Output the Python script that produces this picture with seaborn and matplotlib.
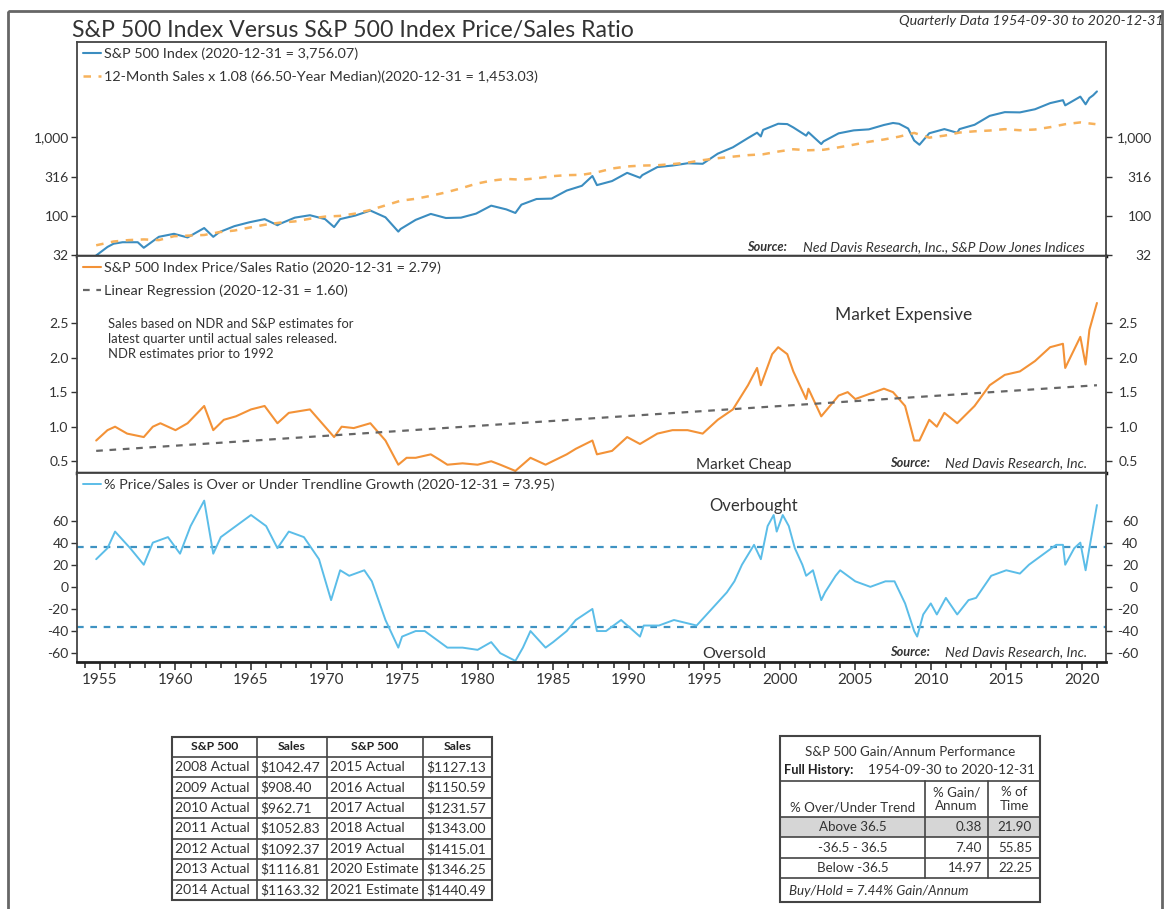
import matplotlib
matplotlib.use("Agg")
import matplotlib.pyplot as plt
import seaborn as sns
from matplotlib.patches import Rectangle
from matplotlib.ticker import NullLocator, MultipleLocator

# ---------------- data ----------------
sp_years = [1954.75, 1955.5, 1955.9, 1956.5, 1957.5, 1957.9, 1958.9, 1959.9, 1960.8, 1961.9,
            1962.5, 1962.9, 1963.9, 1964.9, 1965.9, 1966.75, 1966.9, 1967.9, 1968.9, 1969.9,
            1970.5, 1970.9, 1971.9, 1972.9, 1973.9, 1974.75, 1974.9, 1975.9, 1976.9, 1977.9,
            1978.9, 1979.9, 1980.9, 1981.9, 1982.5, 1982.9, 1983.9, 1984.9, 1985.9, 1986.9,
            1987.6, 1987.9, 1988.9, 1989.9, 1990.75, 1990.9, 1991.9, 1992.9, 1993.9, 1994.9,
            1995.9, 1996.9, 1997.9, 1998.5, 1998.75, 1998.9, 1999.9, 2000.5, 2000.9, 2001.75,
            2001.9, 2002.75, 2002.9, 2003.9, 2004.9, 2005.9, 2006.9, 2007.5, 2007.9, 2008.5,
            2008.9, 2009.25, 2009.9, 2010.9, 2011.75, 2011.9, 2012.9, 2013.9, 2014.9, 2015.9,
            2016.9, 2017.9, 2018.75, 2018.9, 2019.9, 2020.25, 2020.5, 2020.75, 2021.0]
sp_values = [32, 41, 45, 47, 47, 40, 55, 60, 54, 71,
             55, 63, 75, 84, 92, 77, 80, 96, 103, 92,
             73, 92, 102, 118, 97, 64, 69, 90, 107, 95,
             96, 108, 136, 122, 110, 140, 165, 167, 211, 242,
             322, 247, 278, 353, 306, 330, 417, 436, 466, 459,
             616, 741, 970, 1133, 1017, 1229, 1469, 1455, 1320, 1040,
             1148, 815, 880, 1112, 1212, 1248, 1418, 1503, 1468, 1280,
             903, 798, 1115, 1258, 1131, 1258, 1426, 1848, 2059, 2044,
             2239, 2674, 2914, 2507, 3231, 2585, 3100, 3363, 3756]

sales_years = [1954.75, 1955.9, 1956.9, 1957.9, 1958.9, 1959.9, 1960.9, 1961.9, 1962.9, 1963.9,
               1964.9, 1965.9, 1966.9, 1967.9, 1968.9, 1969.9, 1970.9, 1971.9, 1972.9, 1973.9,
               1974.9, 1975.9, 1976.9, 1977.9, 1978.9, 1979.9, 1980.9, 1981.9, 1982.9, 1983.9,
               1984.9, 1985.9, 1986.9, 1987.9, 1988.9, 1989.9, 1990.9, 1991.9, 1992.9, 1993.9,
               1994.9, 1995.9, 1996.9, 1997.9, 1998.9, 1999.9, 2000.9, 2001.9, 2002.9, 2003.9,
               2004.9, 2005.9, 2006.9, 2007.9, 2008.9, 2009.9, 2010.9, 2011.9, 2012.9, 2013.9,
               2014.9, 2015.9, 2016.9, 2017.9, 2018.9, 2019.9, 2020.9]
sales_values = [43, 48, 50, 51, 50, 56, 57, 58, 63, 66,
                72, 78, 83, 86, 93, 99, 101, 108, 120, 137,
                157, 166, 181, 200, 225, 257, 281, 296, 289, 301,
                320, 330, 333, 358, 400, 425, 436, 440, 455, 475,
                510, 540, 565, 590, 605, 655, 700, 680, 690, 740,
                800, 870, 930, 1010, 1126, 981, 1040, 1137, 1180, 1206,
                1256, 1217, 1243, 1330, 1450, 1528, 1453]

ps_years = [1954.75, 1955.5, 1956.0, 1956.8, 1957.9, 1958.5, 1959.0, 1960.0, 1960.8, 1961.9,
            1962.5, 1963.2, 1964.0, 1965.0, 1965.9, 1966.75, 1967.5, 1968.9, 1969.5, 1970.5,
            1971.0, 1971.8, 1972.9, 1973.9, 1974.75, 1975.3, 1975.9, 1976.9, 1977.5, 1978.0,
            1979.0, 1980.0, 1980.9, 1981.5, 1982.5, 1983.5, 1984.5, 1985.9, 1986.5, 1987.6,
            1987.9, 1988.9, 1989.9, 1990.75, 1991.9, 1992.9, 1993.9, 1994.9, 1995.9, 1996.9,
            1997.9, 1998.5, 1998.75, 1999.5, 1999.9, 2000.5, 2000.9, 2001.75, 2001.9, 2002.75,
            2003.9, 2004.5, 2005.0, 2006.9, 2007.5, 2008.3, 2008.9, 2009.25, 2009.9, 2010.4,
            2010.9, 2011.75, 2012.9, 2013.9, 2014.9, 2015.9, 2016.9, 2017.9, 2018.75, 2018.9,
            2019.9, 2020.25, 2020.5, 2021.0]
ps_values = [0.80, 0.95, 1.00, 0.90, 0.85, 1.00, 1.05, 0.95, 1.05, 1.30,
             0.95, 1.10, 1.15, 1.25, 1.30, 1.05, 1.20, 1.25, 1.10, 0.85,
             1.00, 0.98, 1.05, 0.80, 0.45, 0.55, 0.55, 0.60, 0.52, 0.45,
             0.47, 0.45, 0.50, 0.45, 0.36, 0.55, 0.45, 0.60, 0.68, 0.80,
             0.60, 0.65, 0.85, 0.75, 0.90, 0.95, 0.95, 0.90, 1.10, 1.25,
             1.60, 1.85, 1.60, 2.05, 2.15, 2.05, 1.80, 1.40, 1.55, 1.15,
             1.45, 1.50, 1.40, 1.55, 1.50, 1.30, 0.80, 0.80, 1.10, 1.00,
             1.20, 1.05, 1.30, 1.60, 1.75, 1.80, 1.95, 2.15, 2.20, 1.85,
             2.30, 1.90, 2.40, 2.79]

reg_years = [1954.75, 2021.0]
reg_values = [0.65, 1.60]

dev_years = [1954.75, 1955.5, 1956.0, 1957.0, 1957.9, 1958.5, 1959.5, 1960.3, 1961.0, 1961.9,
             1962.5, 1963.0, 1964.0, 1965.0, 1966.0, 1966.75, 1967.5, 1968.5, 1969.5, 1970.3,
             1970.9, 1971.5, 1972.5, 1973.0, 1973.9, 1974.75, 1975.0, 1975.9, 1976.5, 1977.5,
             1978.0, 1979.0, 1980.0, 1980.9, 1981.5, 1982.5, 1983.0, 1983.5, 1984.5, 1985.0,
             1985.9, 1986.5, 1987.6, 1987.9, 1988.5, 1989.5, 1990.75, 1991.0, 1992.0, 1993.0,
             1994.5, 1995.5, 1996.5, 1997.0, 1997.5, 1998.3, 1998.75, 1999.2, 1999.6, 1999.8,
             2000.2, 2000.6, 2001.0, 2001.5, 2001.75, 2002.2, 2002.75, 2003.0, 2003.7, 2004.0,
             2005.0, 2006.0, 2007.0, 2007.6, 2008.3, 2008.9, 2009.1, 2009.5, 2010.0, 2010.4,
             2011.0, 2011.75, 2012.5, 2013.0, 2014.0, 2015.0, 2015.9, 2016.5, 2017.5, 2018.3,
             2018.75, 2018.9, 2019.5, 2019.9, 2020.25, 2020.5, 2021.0]
dev_values = [25, 35, 50, 35, 20, 40, 45, 30, 55, 78,
              30, 45, 55, 65, 55, 35, 50, 45, 25, -12,
              15, 10, 15, 5, -30, -55, -45, -40, -40, -50,
              -55, -55, -57, -50, -60, -67, -55, -40, -55, -50,
              -40, -30, -20, -40, -40, -30, -45, -35, -35, -30,
              -35, -20, -5, 5, 20, 38, 25, 55, 65, 50,
              65, 55, 35, 20, 10, 15, -12, -5, 10, 15,
              5, 0, 5, 5, -15, -40, -45, -25, -15, -25,
              -10, -25, -12, -10, 10, 15, 12, 20, 30, 38,
              38, 20, 35, 40, 15, 35, 74]
band_levels = [36.5, -36.5]

tbl_years_a = ["2008 Actual", "2009 Actual", "2010 Actual", "2011 Actual",
               "2012 Actual", "2013 Actual", "2014 Actual"]
tbl_sales_a = ["$1042.47", "$908.40", "$962.71", "$1052.83", "$1092.37", "$1116.81", "$1163.32"]
tbl_years_b = ["2015 Actual", "2016 Actual", "2017 Actual", "2018 Actual",
               "2019 Actual", "2020 Estimate", "2021 Estimate"]
tbl_sales_b = ["$1127.13", "$1150.59", "$1231.57", "$1343.00", "$1415.01", "$1346.25", "$1440.49"]

perf_zones = ["Above 36.5", "-36.5 - 36.5", "Below -36.5"]
perf_gain = ["0.38", "7.40", "14.97"]
perf_time = ["21.90", "55.85", "22.25"]

# ---------------- style ----------------
sns.set_style("white")
plt.rcParams['font.family'] = ['Lato', 'DejaVu Sans']
TXT = '#333333'

fig = plt.figure(figsize=(11.69, 9.09), dpi=100)
W, H = 1169, 909
L, R = 77, 1106
PX = 72 / 100  # points per pixel


def panel(top, bottom):
    return fig.add_axes([L / W, 1 - bottom / H, (R - L) / W, (bottom - top) / H])


ax1 = panel(42, 256)
ax2 = panel(256, 473)
ax3 = panel(473, 662)

sns.lineplot(x=sp_years, y=sp_values, ax=ax1, color='#3b8dc0', lw=1.5, estimator=None,
             label='S&P 500 Index (2020-12-31 = 3,756.07)')
sns.lineplot(x=sales_years, y=sales_values, ax=ax1, color='#f7b25c', lw=1.8, estimator=None,
             ls=(0, (3, 3)), label='12-Month Sales x 1.08 (66.50-Year Median)(2020-12-31 = 1,453.03)')

sns.lineplot(x=ps_years, y=ps_values, ax=ax2, color='#f39237', lw=1.5, estimator=None,
             label='S&P 500 Index Price/Sales Ratio (2020-12-31 = 2.79)')
sns.lineplot(x=reg_years, y=reg_values, ax=ax2, color='#666666', lw=1.6, estimator=None,
             ls=(0, (3, 3)), label='Linear Regression (2020-12-31 = 1.60)')

sns.lineplot(x=dev_years, y=dev_values, ax=ax3, color='#5bbde8', lw=1.4, estimator=None,
             label='% Price/Sales is Over or Under Trendline Growth (2020-12-31 = 73.95)')
for lev in band_levels:
    ax3.axhline(lev, color='#3f93c2', lw=1.6, ls=(0, (3, 3)), zorder=1)

for ax in (ax1, ax2, ax3):
    ax.set_xlim(1953.48, 2021.6)
    ax.set_xlabel('')
    ax.set_ylabel('')
    ax.tick_params(axis='y', which='major', left=True, right=False, labelleft=True,
                   labelright=False, direction='out', length=4, width=1, color=TXT,
                   labelsize=10, labelcolor=TXT, pad=2)
    ax.tick_params(axis='x', which='both', bottom=False, labelbottom=False)
    for s in ax.spines.values():
        s.set_color('#444444')
        s.set_linewidth(1.3)
    leg = ax.legend(loc='upper left', frameon=False, fontsize=10.4, handlelength=1.25,
                    handletextpad=0.2, borderaxespad=0.1, borderpad=0.3, labelspacing=0.72)
    for t in leg.get_texts():
        t.set_color(TXT)

ax1.set_yscale('log')
ax1.set_ylim(31.5, 15800)
ax1.yaxis.set_minor_locator(NullLocator())
ax1.spines['bottom'].set_color('#111111')
ax1.spines['bottom'].set_linewidth(2.5)

ax2.set_ylim(0.33, 3.47)
ax2.spines['bottom'].set_color('#111111')
ax2.spines['bottom'].set_linewidth(2.5)

ax3.set_ylim(-68, 103)
ax3.spines['bottom'].set_color('#222222')
ax3.spines['bottom'].set_linewidth(2)

# y ticks on both sides; right-hand labels are right-aligned like the original
for ax, ticks, labels, right_end in [
        (ax1, [32, 100, 316, 1000], ['32', '100', '316', '1,000'], 1152),
        (ax2, [0.5, 1.0, 1.5, 2.0, 2.5], ['0.5', '1.0', '1.5', '2.0', '2.5'], 1138),
        (ax3, [-60, -40, -20, 0, 20, 40, 60], ['-60', '-40', '-20', '0', '20', '40', '60'], 1138)]:
    ax.set_yticks(ticks)
    ax.set_yticklabels(labels)
    axr = ax.twinx()
    axr.set_yscale(ax.get_yscale())
    axr.set_ylim(ax.get_ylim())
    axr.set_yticks(ticks)
    axr.set_yticklabels(labels)
    axr.yaxis.set_minor_locator(NullLocator())
    axr.tick_params(axis='y', which='major', right=True, labelright=True, direction='out',
                    length=4, width=1, color=TXT, labelsize=10, labelcolor=TXT,
                    pad=(right_end - R) * PX - 4)
    for t in axr.yaxis.get_major_ticks():
        t.label2.set_horizontalalignment('right')
    for s in axr.spines.values():
        s.set_visible(False)

ax3.xaxis.set_major_locator(MultipleLocator(5))
ax3.xaxis.set_minor_locator(MultipleLocator(1))
ax3.tick_params(axis='x', which='major', bottom=True, labelbottom=True, direction='out',
                length=6, width=1.2, color=TXT, labelsize=11, labelcolor=TXT, pad=2)
ax3.tick_params(axis='x', which='minor', bottom=True, direction='out', length=4,
                width=1.2, color=TXT)
ax3.set_xticks(range(1955, 2021, 5))

# panel annotations
ax2.text(1955.55, 2.57, 'Sales based on NDR and S&P estimates for\nlatest quarter until actual sales released.\n'
         'NDR estimates prior to 1992', fontsize=9.4, color=TXT, va='top', linespacing=1.3)
ax2.text(2008.2, 2.62, 'Market Expensive', fontsize=12.5, color=TXT, ha='center', va='center')
ax2.text(1997.6, 0.45, 'Market Cheap', fontsize=11, color=TXT, ha='center', va='center')
ax3.text(1998.3, 73, 'Overbought', fontsize=12, color=TXT, ha='center', va='center')
ax3.text(1997.0, -61, 'Oversold', fontsize=11.5, color=TXT, ha='center', va='center')

# page overlay (frame, titles, tables)
ov = fig.add_axes([0, 0, 1, 1])
ov.set_xlim(0, W)
ov.set_ylim(H, 0)
ov.axis('off')
ov.add_patch(Rectangle((8, 11), 1154, 905, fill=False, ec='#666666', lw=2))

ov.text(72, 30, 'S&P 500 Index Versus S&P 500 Index Price/Sales Ratio', fontsize=16.7,
        color=TXT, va='center')
ov.text(1164, 21, 'Quarterly Data 1954-09-30 to 2020-12-31', fontsize=10.3, style='italic',
        color=TXT, ha='right', va='center')

for xs, xr, yy, rest in [(747, 803, 247, 'Ned Davis Research, Inc., S&P Dow Jones Indices'),
                         (890, 945, 463, 'Ned Davis Research, Inc.'),
                         (890, 945, 652, 'Ned Davis Research, Inc.')]:
    ov.text(xs, yy, 'Source:', fontsize=9.2, style='italic', weight='bold', color=TXT, va='center')
    ov.text(xr, yy, rest, fontsize=10, style='italic', color=TXT, va='center')

# left table
tc = '#444444'
cols = [172, 257, 327, 423, 492]
rows = [737, 757] + [757 + 143 / 7 * (i + 1) for i in range(7)]
ov.add_patch(Rectangle((cols[0], rows[0]), cols[-1] - cols[0], rows[-1] - rows[0],
                       fill=False, ec=tc, lw=1.5))
for x in cols[1:-1]:
    ov.plot([x, x], [rows[0], rows[-1]], color=tc, lw=1.2)
for y in rows[1:-1]:
    ov.plot([cols[0], cols[-1]], [y, y], color=tc, lw=1.2)
for i, h in enumerate(['S&P 500', 'Sales', 'S&P 500', 'Sales']):
    ov.text((cols[i] + cols[i + 1]) / 2, (rows[0] + rows[1]) / 2, h, fontsize=8.8,
            weight='bold', color='#222222', ha='center', va='center')
for r in range(7):
    yc = (rows[r + 1] + rows[r + 2]) / 2
    for i, val in enumerate([tbl_years_a[r], tbl_sales_a[r], tbl_years_b[r], tbl_sales_b[r]]):
        ov.text(cols[i] + 3, yc, val, fontsize=10, color=TXT, va='center')

# right table
FS = 9.6
x0, x1, x2, x3 = 780, 925, 988, 1040
ov.add_patch(Rectangle((x0, 817), x3 - x0, 20, color='#d6d6d6', lw=0))
ov.add_patch(Rectangle((x0, 736), x3 - x0, 166, fill=False, ec=tc, lw=1.5))
for y in [781, 817, 837, 858, 878]:
    ov.plot([x0, x3], [y, y], color=tc, lw=1.2)
for x in [x1, x2]:
    ov.plot([x, x], [781, 878], color=tc, lw=1.2)
ov.text((x0 + x3) / 2, 752, 'S&P 500 Gain/Annum Performance', fontsize=FS, color=TXT,
        ha='center', va='center')
ov.text(784, 770, 'Full History:', fontsize=9.2, weight='bold', color='#222222', va='center')
ov.text(868, 770, '1954-09-30 to 2020-12-31', fontsize=9.8, color=TXT, va='center')
ov.text((x0 + x1) / 2, 808, '% Over/Under Trend', fontsize=FS, color=TXT, ha='center', va='center')
ov.text((x1 + x2) / 2, 799, '% Gain/\nAnnum', fontsize=FS, color=TXT, ha='center', va='center',
        linespacing=1.15)
ov.text((x2 + x3) / 2, 799, '% of\nTime', fontsize=FS, color=TXT, ha='center', va='center',
        linespacing=1.15)
for r in range(3):
    yc = 827 + 20.5 * r
    ov.text((x0 + x1) / 2, yc, perf_zones[r], fontsize=FS, color=TXT, ha='center', va='center')
    ov.text(x2 - 6, yc, perf_gain[r], fontsize=FS, color=TXT, ha='right', va='center')
    ov.text(x3 - 8, yc, perf_time[r], fontsize=FS, color=TXT, ha='right', va='center')
ov.text(789, 891, 'Buy/Hold = 7.44% Gain/Annum', fontsize=FS, style='italic', color=TXT, va='center')

fig.savefig('out.png', dpi=100, facecolor='white')
